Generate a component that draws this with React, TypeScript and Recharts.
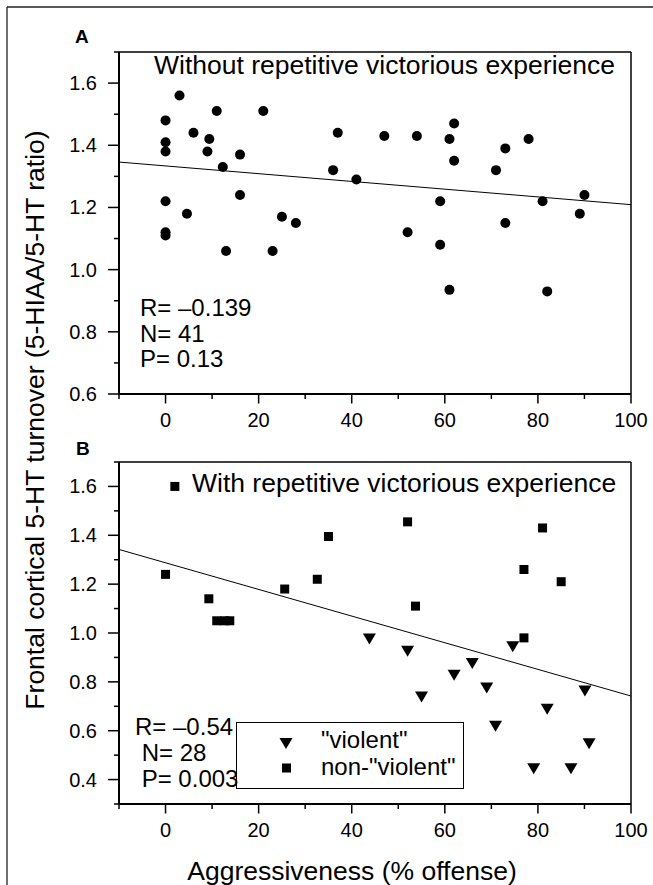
import React from 'react';
import { ScatterChart, Scatter, XAxis, YAxis, ReferenceLine, Legend } from 'recharts';

const FONT = '"Liberation Sans", Arial, Helvetica, sans-serif';

// panel A: without repetitive victorious experience
const offenseA = [0, 3, 0, 0, 6, 9.4, 9, 11, 12.3, 16, 21, 37, 36, 41, 47, 54, 61, 62, 62, 71, 73, 78, 16, 90, 0, 0, 0, 4.6, 13, 23, 25, 28, 52, 59, 59, 61, 73, 81, 82, 89];
const turnoverA = [1.48, 1.56, 1.41, 1.38, 1.44, 1.42, 1.38, 1.51, 1.33, 1.37, 1.51, 1.44, 1.32, 1.29, 1.43, 1.43, 1.42, 1.47, 1.35, 1.32, 1.39, 1.42, 1.24, 1.24, 1.22, 1.12, 1.11, 1.18, 1.06, 1.06, 1.17, 1.15, 1.12, 1.22, 1.08, 0.935, 1.15, 1.22, 0.93, 1.18];
const fitA = [[-10, 1.346], [100, 1.209]];

// panel B: with repetitive victorious experience
const violentOffense = [43.8, 52, 55, 62, 65.9, 69, 70.9, 74.6, 82, 90.1, 91, 79.1, 87.1];
const violentTurnover = [0.975, 0.925, 0.738, 0.827, 0.875, 0.775, 0.618, 0.944, 0.688, 0.763, 0.547, 0.444, 0.444];
const nonViolentOffense = [2, 0, 9.3, 11, 12.7, 13.8, 25.6, 32.6, 35, 52, 53.7, 77, 81, 85, 77];
const nonViolentTurnover = [1.6, 1.24, 1.14, 1.05, 1.05, 1.05, 1.18, 1.22, 1.395, 1.455, 1.11, 1.26, 1.43, 1.21, 0.98];
const fitB = [[-10, 1.342], [100, 0.742]];

const xTicks = [-10, 0, 10, 20, 30, 40, 50, 60, 70, 80, 90, 100];
const yTicksA = [0.6, 0.7, 0.8, 0.9, 1.0, 1.1, 1.2, 1.3, 1.4, 1.5, 1.6, 1.7];
const yTicksB = [0.3, 0.4, 0.5, 0.6, 0.7, 0.8, 0.9, 1.0, 1.1, 1.2, 1.3, 1.4, 1.5, 1.6, 1.7];

const statsA = ['R= \u20130.139', 'N= 41', 'P= 0.13'];
const statsB = ['R= \u20130.54', ' N= 28', ' P= 0.003'];

const toPoints = (xs: number[], ys: number[]) => xs.map((x, i) => ({ x, y: ys[i] }));

const XTick = (props: any) => {
  const { x, y, payload } = props;
  const v = payload.value;
  const major = v % 20 === 0;
  return (
    <g>
      <line x1={x} y1={y} x2={x} y2={y + (major ? 9.5 : 5)} stroke="#000" strokeWidth={1.5} />
      {major && (
        <text x={x} y={y + 33} textAnchor="middle" fontSize={20} fontFamily={FONT} fill="#000">
          {v}
        </text>
      )}
    </g>
  );
};

const YTick = (props: any) => {
  const { x, y, payload } = props;
  const v = payload.value;
  const major = Math.round(v * 10) % 2 === 0;
  return (
    <g>
      <line x1={x} y1={y} x2={x - (major ? 11 : 5)} y2={y} stroke="#000" strokeWidth={1.5} />
      {major && (
        <text x={x - 22} y={y + 7} textAnchor="end" fontSize={20} fontFamily={FONT} fill="#000">
          {v.toFixed(1)}
        </text>
      )}
    </g>
  );
};

const Dot = (p: any) => <circle cx={p.cx} cy={p.cy} r={5} fill="#000" />;
const Square = (p: any) => <rect x={p.cx - 4.5} y={p.cy - 4.5} width={9} height={9} fill="#000" />;
const Tri = (p: any) => (
  <path d={`M${p.cx - 6.5},${p.cy - 5.5}L${p.cx + 6.5},${p.cy - 5.5}L${p.cx},${p.cy + 5.5}Z`} fill="#000" />
);

const LegendBox = () => (
  <svg width={228} height={67} style={{ display: 'block' }}>
    <rect x={0.5} y={0.5} width={227} height={66} fill="#fff" stroke="#000" strokeWidth={1} />
    <path d="M43.5,16 L56.5,16 L50,27 Z" fill="#000" />
    <rect x={46} y={41.5} width={9} height={9} fill="#000" />
    <text x={85} y={26} fontSize={24} fontFamily={FONT} fill="#000">"violent"</text>
    <text x={85} y={53} fontSize={24} fontFamily={FONT} fill="#000">non-"violent"</text>
  </svg>
);

const axisStyle = { stroke: '#000', strokeWidth: 2 };

const frame = (yTop: number) => [
  <ReferenceLine key="top" y={yTop} stroke="#000" strokeWidth={1.5} />,
  <ReferenceLine key="right" x={100} stroke="#000" strokeWidth={1.5} />,
];

export default function App() {
  const dataA = toPoints(offenseA, turnoverA);
  const violent = toPoints(violentOffense, violentTurnover);
  const nonViolent = toPoints(nonViolentOffense, nonViolentTurnover);

  return (
    <div style={{ position: 'absolute', left: 0, top: 0, width: 653, height: 885, background: '#fff' }}>
      <div style={{ position: 'absolute', left: 0, top: 0 }}>
        <ScatterChart width={653} height={440} margin={{ top: 52, right: 22, bottom: 0, left: 19 }}>
          <XAxis type="number" dataKey="x" domain={[-10, 100]} ticks={xTicks} interval={0}
            tickSize={0} tickMargin={0} tick={(p: any) => <XTick {...p} />} height={46} axisLine={axisStyle} allowDataOverflow />
          <YAxis type="number" dataKey="y" domain={[0.6, 1.7]} ticks={yTicksA} interval={0}
            tickSize={0} tickMargin={0} tick={(p: any) => <YTick {...p} />} width={100} axisLine={axisStyle} allowDataOverflow />
          {frame(1.7)}
          <ReferenceLine segment={fitA.map(([x, y]) => ({ x, y }))} stroke="#000" strokeWidth={1} />
          <Scatter data={dataA} shape={Dot} isAnimationActive={false} />
        </ScatterChart>
      </div>
      <div style={{ position: 'absolute', left: 0, top: 440 }}>
        <ScatterChart width={653} height={445} margin={{ top: 22, right: 22, bottom: 0, left: 19 }}>
          <XAxis type="number" dataKey="x" domain={[-10, 100]} ticks={xTicks} interval={0}
            tickSize={0} tickMargin={0} tick={(p: any) => <XTick {...p} />} height={81} axisLine={axisStyle} allowDataOverflow />
          <YAxis type="number" dataKey="y" domain={[0.3, 1.7]} ticks={yTicksB} interval={0}
            tickSize={0} tickMargin={0} tick={(p: any) => <YTick {...p} />} width={100} axisLine={axisStyle} allowDataOverflow />
          {frame(1.7)}
          <ReferenceLine segment={fitB.map(([x, y]) => ({ x, y }))} stroke="#000" strokeWidth={1} />
          <Scatter name='"violent"' data={violent} shape={Tri} isAnimationActive={false} />
          <Scatter name='non-"violent"' data={nonViolent} shape={Square} isAnimationActive={false} />
          <Legend layout="vertical" align="center" verticalAlign="middle" content={() => <LegendBox />}
            wrapperStyle={{ position: 'absolute', left: 236, top: 282, width: 228, height: 67, bottom: 'auto', right: 'auto' }} />
        </ScatterChart>
      </div>
      <svg width={653} height={885} style={{ position: 'absolute', left: 0, top: 0, pointerEvents: 'none' }}
        fontFamily={FONT} fill="#000">
        <line x1={7} y1={7} x2={653} y2={7} stroke="#222" strokeWidth={1.3} />
        <line x1={7} y1={7} x2={7} y2={885} stroke="#222" strokeWidth={1.3} />
        <text x={75} y={43} fontSize={19} fontWeight="bold">A</text>
        <text x={76} y={455} fontSize={19} fontWeight="bold">B</text>
        <text x={154} y={74} fontSize={26.5}>Without repetitive victorious experience</text>
        <text x={192} y={492} fontSize={26.5}>With repetitive victorious experience</text>
        {statsA.map((s, i) => (
          <text key={s} x={140} y={316 + i * 25.5} fontSize={24} style={{ whiteSpace: 'pre' }}>{s}</text>
        ))}
        {statsB.map((s, i) => (
          <text key={s} x={135} y={735 + i * 26} fontSize={24} style={{ whiteSpace: 'pre' }}>{s}</text>
        ))}
        <text x={44} y={420} fontSize={26.5} textAnchor="middle" transform="rotate(-90 44 420)">
          Frontal cortical 5-HT turnover (5-HIAA/5-HT ratio)
        </text>
        <text x={352} y={880} fontSize={26.5} textAnchor="middle">Aggressiveness (% offense)</text>
      </svg>
    </div>
  );
}
